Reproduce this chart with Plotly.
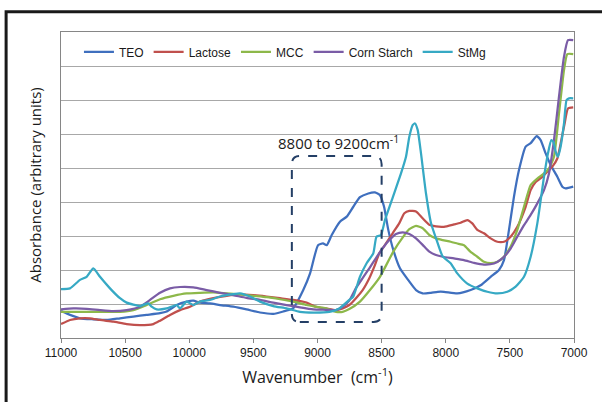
import plotly.graph_objects as go

# ---------------- data ----------------
teo_wn = [11000, 10930, 10852, 10748, 10644, 10540, 10436, 10332, 10228, 10176, 10098, 10020,
          9968, 9916, 9838, 9760, 9657, 9553, 9449, 9345, 9267, 9189, 9111, 9058, 8996, 8957,
          8928, 8889, 8825, 8772, 8721, 8669, 8604, 8552, 8513, 8481, 8448, 8409, 8357, 8292,
          8232, 8180, 8115, 8063, 8014, 7910, 7806, 7728, 7650, 7585, 7546, 7507, 7468, 7429,
          7377, 7338, 7291, 7260, 7221, 7182, 7130, 7091, 7065, 7006]
teo_abs = [0.79, 0.68, 0.58, 0.55, 0.53, 0.58, 0.63, 0.68, 0.73, 0.78, 0.97, 1.07,
           1.10, 1.04, 1.02, 0.97, 0.92, 0.84, 0.75, 0.71, 0.78, 0.88, 1.41, 1.90, 2.73, 2.78,
           2.73, 3.03, 3.42, 3.57, 3.86, 4.14, 4.25, 4.28, 4.20, 3.86, 3.18, 2.59, 2.05, 1.70,
           1.41, 1.31, 1.33, 1.36, 1.36, 1.31, 1.41, 1.55, 1.80, 2.00, 2.29, 3.18, 4.16, 4.94,
           5.63, 5.73, 5.94, 5.82, 5.43, 5.09, 4.74, 4.45, 4.40, 4.45]

lactose_wn = [11000, 10930, 10852, 10774, 10696, 10592, 10488, 10384, 10280, 10228, 10150, 10072,
              9994, 9916, 9812, 9708, 9605, 9501, 9397, 9293, 9189, 9085, 9012, 8934, 8856, 8804,
              8752, 8700, 8648, 8596, 8557, 8518, 8466, 8414, 8362, 8323, 8284, 8232, 8180, 8128,
              8076, 8014, 7936, 7884, 7832, 7793, 7754, 7702, 7650, 7598, 7546, 7494, 7442, 7377,
              7338, 7299, 7247, 7208, 7169, 7130, 7099, 7073, 7047, 7006]
lactose_abs = [0.41, 0.53, 0.58, 0.58, 0.53, 0.48, 0.41, 0.38, 0.41, 0.51, 0.68, 0.82,
               0.92, 1.07, 1.17, 1.24, 1.28, 1.26, 1.22, 1.17, 1.12, 1.04, 0.92, 0.87, 0.82, 0.87,
               0.97, 1.17, 1.41, 1.76, 2.10, 2.49, 2.78, 3.08, 3.38, 3.67, 3.74, 3.72, 3.52, 3.33,
               3.28, 3.27, 3.34, 3.39, 3.47, 3.37, 3.18, 3.08, 2.93, 2.83, 2.83, 2.98, 3.27, 3.86,
               4.35, 4.59, 4.74, 4.89, 5.04, 5.28, 5.82, 6.31, 6.75, 6.78]

mcc_wn = [11000, 10852, 10696, 10540, 10436, 10332, 10228, 10124, 10020, 9916, 9812, 9708,
          9605, 9501, 9397, 9293, 9189, 9085, 9012, 8934, 8856, 8804, 8752, 8669, 8591, 8513,
          8409, 8331, 8284, 8232, 8180, 8128, 8076, 8024, 7962, 7910, 7858, 7806, 7754, 7702,
          7650, 7598, 7546, 7494, 7442, 7390, 7338, 7286, 7234, 7195, 7156, 7117, 7078, 7052, 7006]
mcc_abs = [0.77, 0.77, 0.77, 0.77, 0.82, 0.97, 1.14, 1.24, 1.31, 1.33, 1.34, 1.31,
           1.28, 1.24, 1.20, 1.14, 1.07, 0.97, 0.92, 0.87, 0.77, 0.77, 0.85, 1.07, 1.41, 1.80,
           2.54, 2.98, 3.20, 3.30, 3.23, 3.03, 2.93, 2.88, 2.83, 2.78, 2.73, 2.53, 2.39, 2.24,
           2.20, 2.24, 2.39, 2.69, 3.18, 3.86, 4.50, 4.69, 4.84, 4.99, 5.33, 6.60, 7.88, 8.35, 8.35]

corn_wn = [11000, 10904, 10800, 10696, 10592, 10488, 10384, 10306, 10228, 10150, 10072, 9968,
           9864, 9760, 9657, 9553, 9449, 9345, 9241, 9137, 9033, 8934, 8856, 8804, 8752, 8700,
           8648, 8596, 8544, 8492, 8440, 8388, 8336, 8284, 8232, 8180, 8128, 8076, 8024, 7936,
           7858, 7780, 7702, 7624, 7559, 7494, 7442, 7390, 7338, 7286, 7234, 7195, 7156, 7117,
           7078, 7047, 7006]
corn_abs = [0.84, 0.87, 0.86, 0.82, 0.79, 0.82, 0.92, 1.12, 1.33, 1.46, 1.50, 1.49,
            1.41, 1.33, 1.26, 1.18, 1.12, 1.04, 0.97, 0.90, 0.84, 0.83, 0.82, 0.92, 1.10, 1.47,
            1.76, 2.05, 2.35, 2.64, 2.88, 3.06, 3.11, 3.06, 2.93, 2.74, 2.54, 2.44, 2.39, 2.34,
            2.29, 2.21, 2.16, 2.19, 2.34, 2.63, 2.98, 3.32, 3.62, 3.96, 4.35, 4.84, 5.82, 7.10,
            8.27, 8.76, 8.76]

stmg_wn = [11000, 10930, 10852, 10800, 10748, 10696, 10618, 10540, 10488, 10384, 10319, 10293,
           10254, 10176, 10098, 10072, 10020, 9968, 9916, 9838, 9760, 9657, 9605, 9527, 9449,
           9345, 9241, 9137, 9033, 8908, 8830, 8752, 8721, 8669, 8617, 8565, 8540, 8505, 8474,
           8411, 8349, 8310, 8284, 8258, 8240, 8219, 8193, 8154, 8115, 8063, 8024, 7962, 7910,
           7832, 7754, 7676, 7598, 7520, 7455, 7390, 7338, 7286, 7234, 7203, 7177, 7161, 7143,
           7125, 7104, 7078, 7058, 7039, 7006]
stmg_abs = [1.44, 1.46, 1.71, 1.80, 2.05, 1.80, 1.46, 1.17, 1.04, 0.94, 1.02, 0.92,
            0.84, 0.87, 0.97, 0.87, 1.07, 0.97, 1.07, 1.12, 1.22, 1.29, 1.31, 1.22, 1.07,
            0.94, 0.87, 0.77, 0.75, 0.77, 0.87, 1.12, 1.22, 1.80, 2.20, 2.49, 2.98, 3.03, 3.47,
            4.16, 4.84, 5.33, 5.92, 6.26, 6.31, 6.12, 5.43, 4.25, 3.38, 2.79, 2.40, 2.20, 1.90,
            1.60, 1.46, 1.36, 1.31, 1.36, 1.51, 1.80, 2.39, 3.37, 4.74, 5.43, 5.82, 5.77, 5.48,
            5.33, 5.63, 6.31, 7.00, 7.05, 7.05]

series_names = ["TEO", "Lactose", "MCC", "Corn Starch", "StMg"]
tick_values = [11000, 10500, 10000, 9500, 9000, 8500, 8000, 7500, 7000]
tick_labels = ["11000", "10500", "10000", "9500", "9000", "8500", "8000", "7500", "7000"]
box_low, box_high = 8500, 9200
box_label = "8800 to 9200cm<sup>-1</sup>"

# ---------------- figure ----------------
colors = ["#3F6FBE", "#C0504D", "#8DB84A", "#7A5CA6", "#36A9C4"]
xs = [teo_wn, lactose_wn, mcc_wn, corn_wn, stmg_wn]
ys = [teo_abs, lactose_abs, mcc_abs, corn_abs, stmg_abs]

fig = go.Figure()
for name, x, y, c in zip(series_names, xs, ys, colors):
    fig.add_trace(go.Scatter(x=x, y=y, mode="lines", name=name,
                             line=dict(color=c, width=2.25, shape="spline", smoothing=0.5)))

# dashed rounded box around the highlighted region
y0, y1 = 0.47, 5.35
rx, ry = 62, 0.24
xl, xr = box_high, box_low
path = (f"M {xl - rx},{y0} L {xr + rx},{y0} Q {xr},{y0} {xr},{y0 + ry} "
        f"L {xr},{y1 - ry} Q {xr},{y1} {xr + rx},{y1} "
        f"L {xl - rx},{y1} Q {xl},{y1} {xl},{y1 - ry} "
        f"L {xl},{y0 + ry} Q {xl},{y0} {xl - rx},{y0} Z")
fig.add_shape(type="path", path=path, xref="x", yref="y",
              line=dict(color="#243F66", width=2, dash="dash"))

fig.add_annotation(x=8840, y=5.76, xref="x", yref="y", text=box_label, showarrow=False,
                   font=dict(family="Open Sans", size=15, color="#1a1a1a"))

# outer frame
fig.add_shape(type="rect", xref="paper", yref="paper",
              x0=-0.107, x1=1.07, y0=-0.23, y1=1.066,
              line=dict(color="#1a1a1a", width=3))

fig.update_layout(
    width=602, height=402,
    margin=dict(l=61, r=28, t=32, b=64),
    paper_bgcolor="white", plot_bgcolor="white",
    font=dict(family="Liberation Sans", color="#1a1a1a"),
    showlegend=True,
    legend=dict(orientation="h", x=0.035, xanchor="left", y=0.935, yanchor="middle",
                font=dict(family="Liberation Sans", size=12, color="#1a1a1a"),
                bgcolor="rgba(0,0,0,0)", itemwidth=30, tracegroupgap=0),
    xaxis=dict(range=[11000, 7000], tickvals=tick_values, ticktext=tick_labels,
               ticks="outside", ticklen=4,
               tickcolor="#868686", showline=True, linecolor="#868686", linewidth=1,
               mirror=True, showgrid=False, zeroline=False,
               tickfont=dict(family="Liberation Sans", size=12, color="#1a1a1a"),
               title=dict(text="Wavenumber  (cm<sup>-1</sup>)", standoff=12,
                          font=dict(family="Open Sans", size=16, color="#1a1a1a"))),
    yaxis=dict(range=[0, 9], dtick=1, showticklabels=False, ticks="",
               showgrid=True, gridcolor="#A8A8A8", gridwidth=1,
               showline=True, linecolor="#868686", linewidth=1, mirror=True, zeroline=False,
               title=dict(text="Absorbance (arbitrary units)", standoff=14,
                          font=dict(family="Open Sans", size=15, color="#1a1a1a"))),
)

fig.write_html("out.html", config={"displayModeBar": False},
               post_script="document.body.style.margin='0px';")
